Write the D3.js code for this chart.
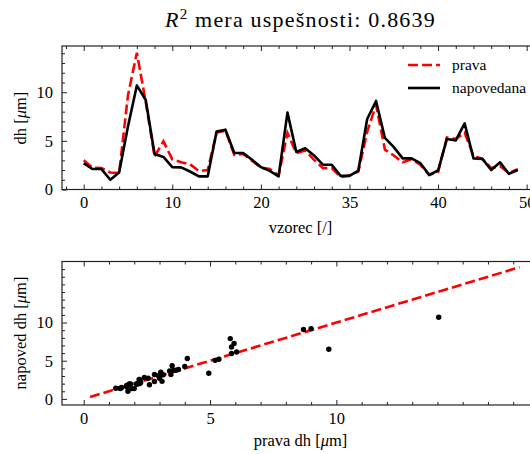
<!DOCTYPE html>
<html>
<head>
<meta charset="utf-8">
<script src="https://cdn.jsdelivr.net/npm/d3@7"></script>
<style>
body { margin: 0; background: #fff; }
svg text { font-family: "Liberation Serif", "DejaVu Serif", serif; fill: #000; }
</style>
</head>
<body>
<svg width="530" height="454"></svg>
<script>
// values
var prava = [3.0, 2.25, 2.2, 1.75, 1.7, 9.7, 14.05, 9.0, 3.4, 4.95,
             3.1, 2.8, 2.6, 1.9, 2.0, 5.85, 6.05, 3.55, 3.65, 2.95,
             2.25, 2.1, 1.45, 5.8, 3.75, 4.0, 3.05, 2.2, 2.2, 1.27,
             1.45, 1.85, 5.95, 8.7, 4.1, 3.5, 2.8, 3.1, 2.55, 1.5,
             1.8, 5.35, 5.2, 5.85, 3.45, 3.15, 2.2, 2.4, 1.7, 2.1];
var napovedana = [2.7, 2.1, 2.1, 1.0, 1.75, 6.5, 10.7, 9.2, 3.65, 3.35,
                  2.3, 2.27, 1.85, 1.35, 1.35, 5.95, 6.15, 3.75, 3.75, 3.05,
                  2.3, 1.92, 1.35, 7.9, 3.85, 4.25, 3.5, 2.55, 2.55, 1.4,
                  1.4, 1.95, 7.25, 9.1, 5.3, 4.35, 3.2, 3.2, 2.7, 1.5,
                  1.95, 5.2, 5.05, 6.8, 3.2, 3.15, 2.0, 2.8, 1.6, 2.0];
var topXTicks = [0, 10, 20, 30, 40, 50];
var topXLabels = ["0", "10", "20", "35", "40", "50"];
var topYTicks = [0, 5, 10];
var botTicks = [0, 5, 10];
var refLine = [0.25, 17.25];
var r2 = "0.8639";

var svg = d3.select("svg");
var left = 62, right = 539.5;

var x1 = d3.scaleLinear().domain([-2.45, 51.45]).range([left, right]);
var y1 = d3.scaleLinear().domain([0, 14.75]).range([189.5, 46]);
var x2 = d3.scaleLinear().domain([-0.86, 18.04]).range([left, right]);
var y2 = d3.scaleLinear().domain([-0.8, 18.0]).range([405, 261.5]);

// box with inward ticks on all four sides
function frame(x, y, xMajor, xMinor, yMajor, yMinor, xFmt) {
    var g = svg.append("g");
    var x0 = x.range()[0], xr = x.range()[1];
    var yb = y.range()[0], yt = y.range()[1];

    function put(axis, tx, ty) {
        var a = g.append("g").attr("transform", "translate(" + tx + "," + ty + ")").call(axis);
        a.select(".domain").remove();
        a.selectAll("line").attr("stroke", "#222").attr("stroke-width", 1);
        a.selectAll("text").attr("font-size", 16.5).attr("font-family", null);
        return a;
    }
    put(d3.axisBottom(x).tickValues(xMajor).tickSize(-5).tickPadding(7).tickFormat(xFmt), 0, yb);
    put(d3.axisBottom(x).tickValues(xMinor).tickSize(-3).tickFormat(""), 0, yb);
    put(d3.axisTop(x).tickValues(xMajor).tickSize(-5).tickFormat(""), 0, yt);
    put(d3.axisTop(x).tickValues(xMinor).tickSize(-3).tickFormat(""), 0, yt);
    put(d3.axisLeft(y).tickValues(yMajor).tickSize(-5).tickPadding(9), x0, 0);
    put(d3.axisLeft(y).tickValues(yMinor).tickSize(-3).tickFormat(""), x0, 0);
    put(d3.axisRight(y).tickValues(yMajor).tickSize(-5).tickFormat(""), xr, 0);
    put(d3.axisRight(y).tickValues(yMinor).tickSize(-3).tickFormat(""), xr, 0);

    g.append("rect")
        .attr("x", x0).attr("y", yt)
        .attr("width", xr - x0).attr("height", yb - yt)
        .attr("fill", "none").attr("stroke", "#222").attr("stroke-width", 1.2);
}

function minors(scale, step, major) {
    var d = scale.domain();
    return d3.range(Math.ceil(d[0] / step) * step, d[1], step).filter(v => major.indexOf(v) < 0);
}

// ---- top: series over sample index ----
var line = d3.line().x((d, i) => x1(i)).y(d => y1(d));

svg.append("path").datum(prava)
    .attr("d", line).attr("fill", "none")
    .attr("stroke", "#ff0000").attr("stroke-width", 2.6)
    .attr("stroke-dasharray", "10,4");
svg.append("path").datum(napovedana)
    .attr("d", line).attr("fill", "none")
    .attr("stroke", "#000").attr("stroke-width", 2.6)
    .attr("stroke-linejoin", "round");

frame(x1, y1, topXTicks, minors(x1, 2, topXTicks), topYTicks, minors(y1, 1, topYTicks),
      (d, i) => topXLabels[i]);

// legend
var leg = svg.append("g").attr("transform", "translate(408,0)");
leg.append("line").attr("x1", 0).attr("x2", 32).attr("y1", 65).attr("y2", 65)
    .attr("stroke", "#ff0000").attr("stroke-width", 2.6).attr("stroke-dasharray", "10,4");
leg.append("line").attr("x1", 0).attr("x2", 32).attr("y1", 88).attr("y2", 88)
    .attr("stroke", "#000").attr("stroke-width", 2.6);
leg.append("text").attr("x", 44).attr("y", 70).attr("font-size", 15.5).text("prava");
leg.append("text").attr("x", 44).attr("y", 93).attr("font-size", 15.5).text("napovedana");

// title
var title = svg.append("text").attr("x", 300.5).attr("y", 27)
    .attr("text-anchor", "middle").attr("font-size", 22)
    .style("letter-spacing", "1.2px");
title.append("tspan").attr("font-style", "italic").text("R");
title.append("tspan").attr("font-size", 15).attr("dy", -8).text("2");
title.append("tspan").attr("dy", 8).text(" mera uspešnosti: " + r2);

// axis labels
function muLabel(sel, before) {
    sel.append("tspan").text(before + " [");
    sel.append("tspan").attr("font-style", "italic").text("μ");
    sel.append("tspan").text("m]");
}
svg.append("text").attr("x", 300.5).attr("y", 233).attr("text-anchor", "middle")
    .attr("font-size", 16.5).text("vzorec [/]");
svg.append("text").attr("transform", "translate(26,118) rotate(-90)")
    .attr("text-anchor", "middle").attr("font-size", 16.5)
    .call(muLabel, "dh");

// ---- bottom: scatter prava vs napovedana ----
svg.append("line")
    .attr("x1", x2(refLine[0])).attr("y1", y2(refLine[0]))
    .attr("x2", x2(refLine[1])).attr("y2", y2(refLine[1]))
    .attr("stroke", "#ff0000").attr("stroke-width", 2.6)
    .attr("stroke-dasharray", "10,4");

svg.selectAll("circle")
    .data(prava)
    .enter()
    .append("circle")
    .attr("cx", d => x2(d))
    .attr("cy", (d, i) => y2(napovedana[i]))
    .attr("r", 2.7)
    .attr("fill", "#000");

frame(x2, y2, botTicks, minors(x2, 1, botTicks), botTicks, minors(y2, 1, botTicks), d => d);

svg.append("text").attr("x", 300.5).attr("y", 446).attr("text-anchor", "middle")
    .attr("font-size", 16.5).call(muLabel, "prava dh");
svg.append("text").attr("transform", "translate(26,333) rotate(-90)")
    .attr("text-anchor", "middle").attr("font-size", 16.5)
    .call(muLabel, "napoved dh");
</script>
</body>
</html>
